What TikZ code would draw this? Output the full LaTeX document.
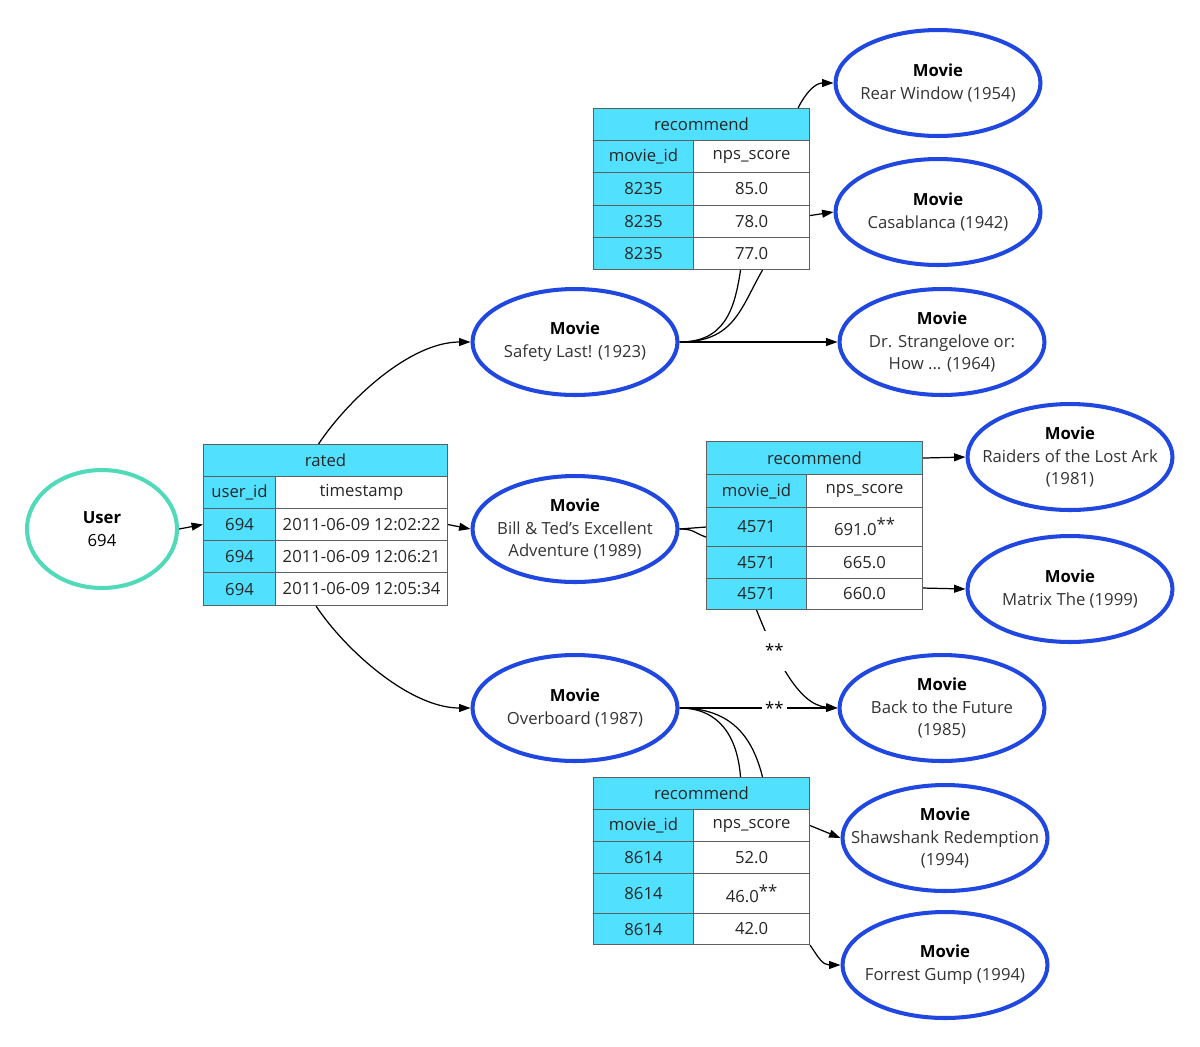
\documentclass[tikz,border=0pt]{standalone}
\usepackage{fontspec}
\setmainfont{Open Sans}
\usepackage{tikz}
\usetikzlibrary{shapes.geometric,arrows.meta}
\definecolor{cellcyan}{RGB}{82,224,255}
\definecolor{movieblue}{RGB}{32,72,224}
\definecolor{userteal}{RGB}{80,218,186}
\definecolor{gridgray}{RGB}{95,95,95}
\tikzstyle{movie}=[draw=movieblue,line width=2.3pt,ellipse,minimum width=4.1cm,minimum height=2.12cm,align=center,inner xsep=-0.5cm,inner ysep=0pt,text=black!80]
\tikzstyle{user}=[movie,draw=userteal,minimum width=3cm,minimum height=2.36cm,text=black]
\tikzstyle{cell}=[draw=gridgray,line width=0.6pt,rectangle,inner sep=0pt,anchor=north west,text=black!85]
\tikzstyle{key}=[cell,fill=cellcyan]
\tikzstyle{val}=[cell,fill=white]
\tikzstyle{link}=[line width=0.7pt]
\tikzstyle{arr}=[link,-{Triangle[length=6.5pt,width=4.5pt]}]
\tikzstyle{star}=[fill=white,inner sep=2pt]
\tikzset{wh/.style 2 args={minimum width=#1*0.02cm,minimum height=#2*0.02cm}}
\newcommand{\mv}[1]{{\color{black}\textbf{Movie}}\\#1}
\newcommand{\sstar}{\raisebox{0.55ex}{**}}

\begin{document}
\begin{tikzpicture}[x=0.02cm,y=-0.02cm,font=\fontsize{9.5}{13}\selectfont]
      \useasboundingbox (0,0) rectangle (1200,1046);

      % rated
      \begin{scope}[shift={(203,444)}]
        \node[key,wh={244}{32}] (rh) at (0,0) {rated};
        \node[key,wh={72}{32}] (rk) at (0,32) {user\_id};
        \node[val,wh={172}{32}] (rv) at (72,32) {timestamp};
        \foreach \y/\h/\t [count=\i] in {64/32/12:02:22,96/32/12:06:21,128/33/12:05:34}{
          \node[key,wh={72}{\h}] (ra\i) at (0,\y) {694};
          \node[val,wh={172}{\h}] (rb\i) at (72,\y) {2011-06-09 \t};
        }
      \end{scope}

      % recommend tables
      \begin{scope}[shift={(593,108)}]
        \node[key,wh={216}{32}] (rec1h) at (0,0) {recommend};
        \node[key,wh={100}{32}] (rec1k) at (0,32) {movie\_id};
        \node[val,wh={116}{32}] (rec1v) at (100,32) {nps\_score};
        \foreach \y/\h/\s [count=\i] in {64/33/85.0,97/32/78.0,129/32/77.0}{
          \node[key,wh={100}{\h}] (rec1a\i) at (0,\y) {8235};
          \node[val,wh={116}{\h}] (rec1b\i) at (100,\y) {\s};
        }
      \end{scope}

      \begin{scope}[shift={(706,441)}]
        \node[key,wh={216}{33}] (rec2h) at (0,0) {recommend};
        \node[key,wh={100}{33}] (rec2k) at (0,33) {movie\_id};
        \node[val,wh={116}{33}] (rec2v) at (100,33) {nps\_score};
        \foreach \y/\h/\s [count=\i] in {66/39/{691.0\sstar},105/32/665.0,137/31/660.0}{
          \node[key,wh={100}{\h}] (rec2a\i) at (0,\y) {4571};
          \node[val,wh={116}{\h}] (rec2b\i) at (100,\y) {\s};
        }
      \end{scope}

      \begin{scope}[shift={(593,777)}]
        \node[key,wh={216}{32}] (rec3h) at (0,0) {recommend};
        \node[key,wh={100}{32}] (rec3k) at (0,32) {movie\_id};
        \node[val,wh={116}{32}] (rec3v) at (100,32) {nps\_score};
        \foreach \y/\h/\s [count=\i] in {64/32/52.0,96/40/{46.0\sstar},136/31/42.0}{
          \node[key,wh={100}{\h}] (rec3a\i) at (0,\y) {8614};
          \node[val,wh={116}{\h}] (rec3b\i) at (100,\y) {\s};
        }
      \end{scope}

      % user and movies
      \node[user] (u) at (102,529) {\textbf{User}\\694};
      \node[movie] (ms) at (575,342) {\mv{Safety Last! (1923)}};
      \node[movie] (mb) at (575,529) {\mv{Bill \& Ted's Excellent\\Adventure (1989)}};
      \node[movie] (mo) at (575,708) {\mv{Overboard (1987)}};
      \node[movie] (mr) at (938,83) {\mv{Rear Window (1954)}};
      \node[movie] (mc) at (938,212) {\mv{Casablanca (1942)}};
      \node[movie] (md) at (942,342) {\mv{Dr. Strangelove or:\\How ... (1964)}};
      \node[movie] (mi) at (1070,457) {\mv{Raiders of the Lost Ark\\(1981)}};
      \node[movie] (mm) at (1070,589) {\mv{Matrix The (1999)}};
      \node[movie] (mf) at (942,708) {\mv{Back to the Future\\(1985)}};
      \node[movie] (mw) at (945,838) {\mv{Shawshank Redemption\\(1994)}};
      \node[movie] (mg) at (945,965) {\mv{Forrest Gump (1994)}};

      \draw[arr] (u.east) -- (ra1.west);
      \draw[arr] ([xshift=-0.14cm]rh.north) .. controls +(30,-45) and +(-60,0) .. (ms.west);
      \draw[arr] (rb1.east) -- (mb.west);
      \draw[arr] ([xshift=0.8cm]ra3.south east) .. controls +(30,45) and +(-60,0) .. (mo.west);

      \draw[link] (ms.east) .. controls +(45,0) and +(-6,40) .. ([xshift=-0.22cm]rec1b3.south);
      \draw[link] (ms.east) .. controls +(55,0) and +(-22,38) .. ([xshift=0.22cm]rec1b3.south);
      \draw[arr] (ms.east) -- (md.west);
      \draw[arr] ([xshift=-0.24cm]rec1h.north east) .. controls +(8,-16) and +(-18,0) .. (mr.west);
      \draw[arr] ([yshift=0.12cm]rec1b2.east) -- (mc.west);

      \draw[link] (mb.east) -- (rec2a1.west);
      \draw[link] (mb.east) .. controls +(15,0) and +(-12,-4) .. ([yshift=-0.2cm]rec2a1.west);
      \draw[arr] (rec2h.east) -- (mi.west);
      \draw[arr] ([yshift=0.12cm]rec2b3.east) -- (mm.west);
      \draw[arr] (rec2a3.south) .. controls +(18,45) and +(-40,-3) .. (mf.west)
        node[star,minimum height=0.8cm,pos=0.3] {**};

      \draw[arr] (mo.east) -- (mf.west) node[star,pos=0.6] {**};
      \draw[link] (mo.east) .. controls +(40,0) and +(-3,-40) .. ([xshift=0.78cm]rec3h.north);
      \draw[link] (mo.east) .. controls +(52,0) and +(-10,-40) .. ([xshift=1.22cm]rec3h.north);
      \draw[arr] (rec3v.east) -- (mw.west);
      \draw[arr] (rec3b3.south east) .. controls +(8,12) and +(-18,0) .. (mg.west);
    \end{tikzpicture}
\end{document}
